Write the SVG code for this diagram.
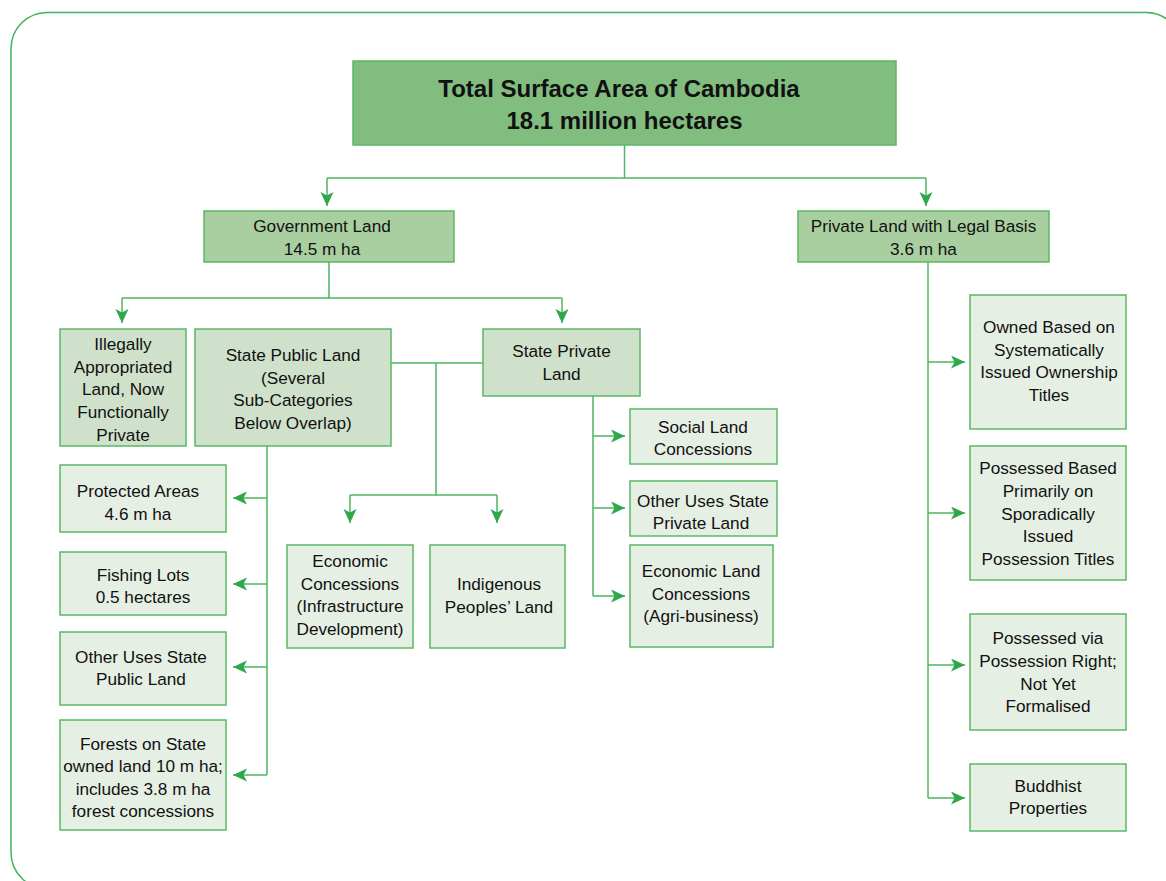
<svg xmlns="http://www.w3.org/2000/svg" width="1166" height="881" viewBox="0 0 1166 881">
<defs>
<style>
text{font-family:"Liberation Sans",Arial,sans-serif;font-size:17.2px;fill:#111;text-anchor:middle;dominant-baseline:central}
.t{font-size:24px;font-weight:bold}
.b{stroke:#5ab864;stroke-width:1.5}
.l1{fill:#82bd80}
.l2{fill:#a9cfa0}
.l3{fill:#cfe1cb}
.l4{fill:#e6efe4}
.c{fill:none;stroke:#4db660;stroke-width:1.5}
</style>
<marker id="ah" markerWidth="16" markerHeight="16" refX="14" refY="6.5" orient="auto" markerUnits="userSpaceOnUse">
<path d="M0,0 L14,6.5 L0,13 L3.5,6.5 Z" fill="#2ea84a"/>
</marker>
</defs>
<rect x="11" y="12.5" width="1171" height="876" rx="36" fill="none" stroke="#3fb35a" stroke-width="1.5"/>
<g id="connectors">
<path class="c" d="M624.5,145 V178"/>
<path class="c" d="M327,178 H926"/>
<path class="c" d="M327,178 V206" marker-end="url(#ah)"/>
<path class="c" d="M926,178 V206" marker-end="url(#ah)"/>
<path class="c" d="M329,262 V298 M122,298 H562"/>
<path class="c" d="M122,298 V323" marker-end="url(#ah)"/>
<path class="c" d="M562,298 V323" marker-end="url(#ah)"/>
<path class="c" d="M391,363 H483 M436,363 V495 M350,495 H497"/>
<path class="c" d="M350,495 V523" marker-end="url(#ah)"/>
<path class="c" d="M497,495 V523" marker-end="url(#ah)"/>
<path class="c" d="M267,446 V775"/>
<path class="c" d="M267,498 H233" marker-end="url(#ah)"/>
<path class="c" d="M267,584 H233" marker-end="url(#ah)"/>
<path class="c" d="M267,667 H233" marker-end="url(#ah)"/>
<path class="c" d="M267,775 H233" marker-end="url(#ah)"/>
<path class="c" d="M593,396 V596"/>
<path class="c" d="M593,436 H625" marker-end="url(#ah)"/>
<path class="c" d="M593,508 H625" marker-end="url(#ah)"/>
<path class="c" d="M593,596 H625" marker-end="url(#ah)"/>
<path class="c" d="M928,262 V798"/>
<path class="c" d="M928,362 H965" marker-end="url(#ah)"/>
<path class="c" d="M928,513 H965" marker-end="url(#ah)"/>
<path class="c" d="M928,665 H965" marker-end="url(#ah)"/>
<path class="c" d="M928,798 H965" marker-end="url(#ah)"/>
</g>
<g id="total">
<rect class="b l1" x="353" y="61" width="543" height="84"/>
<text class="t" x="619" y="88">Total Surface Area of Cambodia</text>
<text class="t" x="624.5" y="120">18.1 million hectares</text>
</g>
<g id="government">
<rect class="b l2" x="204" y="211" width="250" height="51"/>
<text x="322" y="226">Government Land</text>
<text x="322" y="249">14.5 m ha</text>
</g>
<g id="private">
<rect class="b l2" x="798" y="211" width="251" height="51"/>
<text x="923.5" y="226">Private Land with Legal Basis</text>
<text x="923.5" y="249">3.6 m ha</text>
</g>
<g id="illegal">
<rect class="b l3" x="60" y="329" width="126" height="117"/>
<text x="123" y="344">Illegally</text>
<text x="123" y="367">Appropriated</text>
<text x="123" y="389">Land, Now</text>
<text x="123" y="412">Functionally</text>
<text x="123" y="435">Private</text>
</g>
<g id="statepublic">
<rect class="b l3" x="195" y="329" width="196" height="117"/>
<text x="293" y="355">State Public Land</text>
<text x="293" y="378">(Several</text>
<text x="293" y="400">Sub-Categories</text>
<text x="293" y="423">Below Overlap)</text>
</g>
<g id="stateprivate">
<rect class="b l3" x="483" y="329" width="157" height="67"/>
<text x="561.5" y="351">State Private</text>
<text x="561.5" y="374">Land</text>
</g>
<g id="protected">
<rect class="b l4" x="60" y="465" width="166" height="67"/>
<text x="138" y="491">Protected Areas</text>
<text x="138" y="514">4.6 m ha</text>
</g>
<g id="fishing">
<rect class="b l4" x="60" y="552" width="166" height="63"/>
<text x="143" y="575">Fishing Lots</text>
<text x="143" y="597">0.5 hectares</text>
</g>
<g id="otherpublic">
<rect class="b l4" x="60" y="632" width="166" height="73"/>
<text x="141" y="657">Other Uses State</text>
<text x="141" y="679">Public Land</text>
</g>
<g id="forests">
<rect class="b l4" x="60" y="720" width="166" height="110"/>
<text x="143" y="744">Forests on State</text>
<text x="143" y="766">owned land 10 m ha;</text>
<text x="143" y="789">includes 3.8 m ha</text>
<text x="143" y="811">forest concessions</text>
</g>
<g id="econconc">
<rect class="b l4" x="287" y="545" width="126" height="103"/>
<text x="350" y="561">Economic</text>
<text x="350" y="584">Concessions</text>
<text x="350" y="606">(Infrastructure</text>
<text x="350" y="629">Development)</text>
</g>
<g id="indigenous">
<rect class="b l4" x="430" y="545" width="135" height="103"/>
<text x="499" y="584">Indigenous</text>
<text x="499" y="607">Peoples’ Land</text>
</g>
<g id="social">
<rect class="b l4" x="630" y="409" width="147" height="55"/>
<text x="703" y="427">Social Land</text>
<text x="703" y="449">Concessions</text>
</g>
<g id="otherprivate">
<rect class="b l4" x="630" y="481" width="147" height="55"/>
<text x="703" y="501">Other Uses State</text>
<text x="701" y="523">Private Land</text>
</g>
<g id="elc">
<rect class="b l4" x="630" y="545" width="143" height="102"/>
<text x="701" y="571">Economic Land</text>
<text x="701" y="594">Concessions</text>
<text x="701" y="616">(Agri-business)</text>
</g>
<g id="owned">
<rect class="b l4" x="970" y="295" width="156" height="134"/>
<text x="1049" y="327">Owned Based on</text>
<text x="1049" y="350">Systematically</text>
<text x="1049" y="372">Issued Ownership</text>
<text x="1049" y="395">Titles</text>
</g>
<g id="possessedbased">
<rect class="b l4" x="970" y="446" width="156" height="134"/>
<text x="1048" y="468">Possessed Based</text>
<text x="1048" y="491">Primarily on</text>
<text x="1048" y="514">Sporadically</text>
<text x="1048" y="536">Issued</text>
<text x="1048" y="559">Possession Titles</text>
</g>
<g id="possessedvia">
<rect class="b l4" x="970" y="614" width="156" height="116"/>
<text x="1048" y="638">Possessed via</text>
<text x="1048" y="661">Possession Right;</text>
<text x="1048" y="684">Not Yet</text>
<text x="1048" y="706">Formalised</text>
</g>
<g id="buddhist">
<rect class="b l4" x="970" y="764" width="156" height="67"/>
<text x="1048" y="786">Buddhist</text>
<text x="1048" y="808">Properties</text>
</g>
</svg>
